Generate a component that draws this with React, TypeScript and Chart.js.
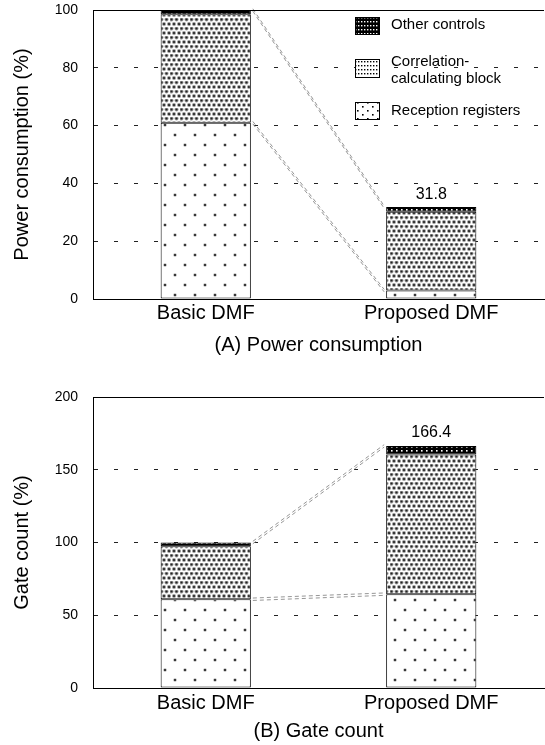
import React, { useEffect, useRef } from 'react';
import { Chart, registerables } from 'chart.js';

Chart.register(...registerables);

const CATEGORIES = ['Basic DMF', 'Proposed DMF'];

const POWER_RECEPTION = [61, 2.9];
const POWER_CORRELATION = [37.5, 27.3];
const POWER_OTHER = [1.5, 1.6];
const POWER_TOTAL_LABELS = ['', '31.8'];
const POWER_TICKS = [0, 20, 40, 60, 80, 100];

const GATE_RECEPTION = [61, 64.5];
const GATE_CORRELATION = [36.5, 96];
const GATE_OTHER = [2.5, 5.9];
const GATE_TOTAL_LABELS = ['', '166.4'];
const GATE_TICKS = [0, 50, 100, 150, 200];

const SERIES_NAMES = ['Reception registers', 'Correlation-calculating block', 'Other controls'];
const LEGEND_LINES = [['Other controls'], ['Correlation-', 'calculating block'], ['Reception registers']];

const FONT = "'Liberation Sans', Arial, sans-serif";

type Dot = [number, number];

function makePattern(ctx: CanvasRenderingContext2D, w: number, h: number, bg: string, dots: Dot[], draw: (g: CanvasRenderingContext2D, x: number, y: number) => void) {
  const c = document.createElement('canvas');
  c.width = w;
  c.height = h;
  const g = c.getContext('2d')!;
  g.fillStyle = bg;
  g.fillRect(0, 0, w, h);
  for (const [x, y] of dots) draw(g, x, y);
  return ctx.createPattern(c, 'repeat')!;
}

function halo(outer: string, ro: number, inner: string, ri: number) {
  return (g: CanvasRenderingContext2D, x: number, y: number) => {
    g.fillStyle = outer;
    g.beginPath();
    g.arc(x, y, ro, 0, Math.PI * 2);
    g.fill();
    g.fillStyle = inner;
    g.beginPath();
    g.arc(x, y, ri, 0, Math.PI * 2);
    g.fill();
  };
}

function squareDot(color: string, s: number) {
  return (g: CanvasRenderingContext2D, x: number, y: number) => {
    g.fillStyle = color;
    g.fillRect(x, y, s, s);
  };
}

function makePatterns(ctx: CanvasRenderingContext2D) {
  return {
    reception: makePattern(ctx, 20, 20, '#fff', [[5, 5], [15, 15]], halo('#b0b0b0', 1.8, '#111', 1.0)),
    correlation: makePattern(ctx, 10, 9, '#fff', [[1.5, 1.5], [6.5, 1.5], [4, 6], [9, 6], [-1, 6]], halo('#9a9a9a', 2.0, '#222', 1.1)),
    other: makePattern(ctx, 5, 4, '#000', [[1, 1]], squareDot('#fff', 1.6)),
    legReception: makePattern(ctx, 10, 8, '#fff', [[2, 2], [7, 6]], squareDot('#000', 1.6)),
    legCorrelation: makePattern(ctx, 3, 4, '#fff', [[1, 1]], squareDot('#000', 1.4)),
    legOther: makePattern(ctx, 3, 4, '#000', [[1, 1]], squareDot('#fff', 1.4)),
  };
}

interface Spec {
  reception: number[];
  correlation: number[];
  other: number[];
  totals: string[];
  ticks: number[];
  yTitle: string;
  xTitle: string;
  legend: boolean;
  padTop: number;
  padBottom: number;
  xHeight: number;
  tickPad: number;
}

function buildChart(canvas: HTMLCanvasElement, spec: Spec) {
  const ctx = canvas.getContext('2d')!;
  const pats = makePatterns(ctx);
  const max = spec.ticks[spec.ticks.length - 1];

  const overlay = {
    id: 'overlay',
    afterDatasetsDraw(chart: any) {
      const c = chart.ctx as CanvasRenderingContext2D;
      const area = chart.chartArea;
      const m0 = chart.getDatasetMeta(0).data;
      const m2 = chart.getDatasetMeta(2).data;

      // connector lines
      c.save();
      c.strokeStyle = '#8a8a8a';
      c.lineWidth = 0.9;
      c.setLineDash([4, 3]);
      const connect = (a: any, b: any) => {
        const x1 = a.x + a.width / 2;
        const x2 = b.x - b.width / 2;
        for (const off of [-1.2, 1.2]) {
          c.beginPath();
          c.moveTo(x1 + 2, a.y + off);
          c.lineTo(x2 - 2, b.y + off);
          c.stroke();
        }
      };
      connect(m2[0], m2[1]);
      connect(m0[0], m0[1]);
      c.restore();

      // total labels
      c.save();
      c.fillStyle = '#000';
      c.font = `16px ${FONT}`;
      c.textAlign = 'center';
      c.textBaseline = 'middle';
      spec.totals.forEach((t, i) => {
        if (!t) return;
        const el = m2[i];
        c.fillText(t, el.x, el.y - 13);
      });
      c.restore();

      // top border
      c.save();
      c.strokeStyle = '#000';
      c.lineWidth = 1;
      c.beginPath();
      c.moveTo(area.left, area.top + 0.5);
      c.lineTo(area.right, area.top + 0.5);
      c.stroke();
      c.restore();

      if (spec.legend) {
        const boxX = area.right - 189;
        const textX = area.right - 153;
        const items = [
          { pat: pats.legOther, y: area.top + 7, h: 17, lines: LEGEND_LINES[0], ty: [area.top + 15] },
          { pat: pats.legCorrelation, y: area.top + 49, h: 18, lines: LEGEND_LINES[1], ty: [area.top + 52, area.top + 69] },
          { pat: pats.legReception, y: area.top + 92, h: 17, lines: LEGEND_LINES[2], ty: [area.top + 101] },
        ];
        c.save();
        c.font = `15px ${FONT}`;
        c.textAlign = 'left';
        c.textBaseline = 'middle';
        for (const it of items) {
          c.fillStyle = it.pat;
          c.fillRect(boxX, it.y, 24, it.h);
          c.strokeStyle = '#000';
          c.lineWidth = 1;
          c.strokeRect(boxX + 0.5, it.y + 0.5, 24, it.h);
          c.fillStyle = '#000';
          it.lines.forEach((ln, k) => c.fillText(ln, textX, it.ty[k]));
        }
        c.restore();
      }
    },
  };

  const ds = (label: string, data: number[], bg: CanvasPattern) => ({
    label,
    data,
    backgroundColor: bg,
    borderColor: '#000',
    borderWidth: 1,
    borderSkipped: false,
    barPercentage: 0.4,
    categoryPercentage: 1.0,
  });

  return new Chart(canvas, {
    type: 'bar',
    data: {
      labels: CATEGORIES,
      datasets: [
        ds(SERIES_NAMES[0], spec.reception, pats.reception),
        ds(SERIES_NAMES[1], spec.correlation, pats.correlation),
        ds(SERIES_NAMES[2], spec.other, pats.other),
      ] as any,
    },
    options: {
      animation: false,
      responsive: false,
      layout: { padding: { left: 0, right: 1, top: spec.padTop, bottom: spec.padBottom } },
      plugins: { legend: { display: false }, tooltip: { enabled: false } },
      scales: {
        x: {
          stacked: true,
          grid: { display: false, drawTicks: false },
          border: { display: true, color: '#000', width: 1 },
          ticks: { color: '#000', font: { family: FONT, size: 20 }, padding: spec.tickPad },
          title: { display: true, text: spec.xTitle, color: '#000', font: { family: FONT, size: 20 }, padding: { top: 0, bottom: 0 } },
          afterFit: (s: any) => { s.height = spec.xHeight; s.paddingLeft = 0; s.paddingRight = 0; },
        },
        y: {
          stacked: true,
          min: 0,
          max,
          afterBuildTicks: (s: any) => { s.ticks = spec.ticks.map((v) => ({ value: v })); },
          grid: {
            drawTicks: false,
            lineWidth: 1,
            color: (c: any) => (c.tick && (c.tick.value === 0 || c.tick.value === max) ? 'rgba(0,0,0,0)' : '#222'),
          },
          border: { display: true, color: '#000', width: 1, dash: [4, 16] },
          ticks: { color: '#000', font: { family: FONT, size: 14 }, padding: 15 },
          title: { display: true, text: spec.yTitle, color: '#000', font: { family: FONT, size: 20 }, padding: { top: 10, bottom: 0 } },
          afterFit: (s: any) => { s.width = 93; s.paddingTop = 0; s.paddingBottom = 0; },
        },
      },
    } as any,
    plugins: [overlay],
  });
}

function ChartPanel({ spec, top, height }: { spec: Spec; top: number; height: number }) {
  const ref = useRef<HTMLCanvasElement>(null);
  useEffect(() => {
    if (!ref.current) return;
    const chart = buildChart(ref.current, spec);
    return () => chart.destroy();
  }, []);
  return (
    <canvas
      ref={ref}
      width={545}
      height={height}
      style={{ position: 'absolute', left: 0, top, width: 545, height, display: 'block' }}
    />
  );
}

const POWER_SPEC: Spec = {
  reception: POWER_RECEPTION,
  correlation: POWER_CORRELATION,
  other: POWER_OTHER,
  totals: POWER_TOTAL_LABELS,
  ticks: POWER_TICKS,
  yTitle: 'Power consumption (%)',
  xTitle: '(A) Power consumption',
  legend: true,
  padTop: 10,
  padBottom: 8,
  xHeight: 58,
  tickPad: 2,
};

const GATE_SPEC: Spec = {
  reception: GATE_RECEPTION,
  correlation: GATE_CORRELATION,
  other: GATE_OTHER,
  totals: GATE_TOTAL_LABELS,
  ticks: GATE_TICKS,
  yTitle: 'Gate count (%)',
  xTitle: '(B) Gate count',
  legend: false,
  padTop: 32,
  padBottom: 2,
  xHeight: 55,
  tickPad: 3,
};

export default function App() {
  return (
    <div style={{ position: 'absolute', left: 0, top: 0, width: 545, height: 745, background: '#fff' }}>
      <ChartPanel spec={POWER_SPEC} top={0} height={365} />
      <ChartPanel spec={GATE_SPEC} top={365} height={380} />
    </div>
  );
}
